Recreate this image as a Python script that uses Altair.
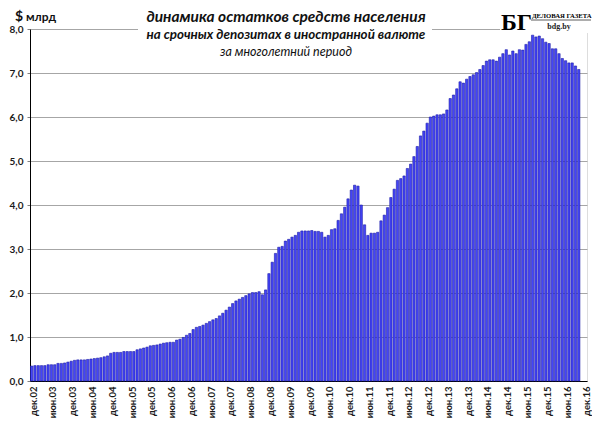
import altair as alt
import pandas as pd

abbr = ["янв", "фев", "мар", "апр", "май", "июн", "июл", "авг", "сен", "окт", "ноя", "дек"]
months = ["дек.02"] + [f"{abbr[m]}.{y:02d}" for y in range(3, 17) for m in range(12)]
tick_labels = [m for m in months if m.startswith(("дек", "июн"))]

values = [
    0.34, 0.35, 0.35, 0.35, 0.35, 0.37, 0.37, 0.37, 0.40, 0.40, 0.41, 0.43,
    0.45, 0.47, 0.48, 0.48, 0.48, 0.49, 0.50, 0.51, 0.52, 0.53, 0.55, 0.57,
    0.63, 0.65, 0.65, 0.65, 0.67, 0.67, 0.67, 0.67, 0.71, 0.73, 0.75, 0.77,
    0.80, 0.81, 0.82, 0.84, 0.86, 0.87, 0.88, 0.88, 0.93, 0.95, 0.99, 1.04,
    1.08, 1.17, 1.22, 1.24, 1.27, 1.31, 1.35, 1.39, 1.42, 1.48, 1.54, 1.61,
    1.68, 1.76, 1.82, 1.86, 1.90, 1.94, 1.98, 2.01, 2.01, 2.03, 1.96, 2.07,
    2.44, 2.70, 2.90, 3.04, 3.06, 3.18, 3.22, 3.27, 3.31, 3.38, 3.41, 3.41,
    3.41, 3.42, 3.40, 3.40, 3.38, 3.27, 3.31, 3.44, 3.46, 3.65, 3.80, 3.95,
    4.14, 4.34, 4.45, 4.43, 4.00, 3.55, 3.31, 3.36, 3.36, 3.38, 3.64, 3.77,
    3.94, 4.17, 4.36, 4.56, 4.60, 4.66, 4.83, 4.93, 5.10, 5.33, 5.57, 5.68,
    5.86, 6.00, 6.02, 6.05, 6.05, 6.07, 6.16, 6.42, 6.50, 6.64, 6.80, 6.77,
    6.86, 6.92, 6.96, 7.01, 7.08, 7.17, 7.27, 7.30, 7.30, 7.27, 7.36, 7.44,
    7.53, 7.41, 7.50, 7.44, 7.53, 7.52, 7.65, 7.71, 7.86, 7.82, 7.84, 7.78,
    7.70, 7.67, 7.55, 7.55, 7.44, 7.33, 7.28, 7.23, 7.23, 7.16, 7.08,
]
y_ticks = [0, 1, 2, 3, 4, 5, 6, 7, 8]

title_1 = "динамика остатков средств населения"
title_2 = "на срочных депозитах в иностранной валюте"
title_3 = "за многолетний период"
unit_sign = "$"
unit_text = "млрд"
logo_big = "БГ"
logo_name = "ДЕЛОВАЯ ГАЗЕТА"
logo_site = "bdg.by"

df = pd.DataFrame({"month": months[:len(values)], "value": values})

W, H = 557, 352
FONT = "Lato"
SERIF = "Liberation Serif"

bars = alt.Chart(df).mark_bar(
    color="#4444f8", stroke="#1c1ca6", strokeWidth=0.6
).encode(
    x=alt.X("month:O", sort=None,
            scale=alt.Scale(domain=months, paddingInner=0.3, paddingOuter=0.15),
            axis=alt.Axis(title=None, values=tick_labels, labelAngle=-90,
                          labelFont=FONT, labelFontSize=9.5, labelFontWeight="bold",
                          labelColor="#1a1a1a", labelPadding=5, labelOffset=2,
                          ticks=False, domainColor="#000000", domainWidth=1,
                          grid=False)),
    y=alt.Y("value:Q",
            scale=alt.Scale(domain=[0, 8], nice=False, zero=True),
            axis=alt.Axis(title=None, values=y_ticks,
                          labelExpr="replace(format(datum.value, '.1f'), '.', ',')",
                          labelFont=FONT, labelFontSize=10, labelFontWeight="bold",
                          labelColor="#1a1a1a", labelPadding=4, tickSize=3,
                          tickColor="#808080", domainColor="#000000", domainWidth=1,
                          grid=True, gridColor="#a6a6a6", gridWidth=1)),
)

one = alt.Data(values=[{"a": 1}])

title_box = alt.Chart(one).mark_rect(color="white").encode(
    x=alt.value(108), x2=alt.value(402), y=alt.value(-29), y2=alt.value(31)
)
logo_box = alt.Chart(one).mark_rect(color="white").encode(
    x=alt.value(470), x2=alt.value(562), y=alt.value(-29), y2=alt.value(4)
)


def txt(text, x, y, size, weight="normal", style="normal", font=FONT, align="center", color="#111111"):
    return alt.Chart(one).mark_text(
        text=text, font=font, fontSize=size, fontWeight=weight, fontStyle=style,
        align=align, baseline="alphabetic", color=color
    ).encode(x=alt.value(x), y=alt.value(y))


texts = [
    txt(unit_sign, -15, -8, 14, weight="bold", align="left"),
    txt(unit_text, -4, -8, 12, weight="bold", align="left"),
    txt(title_1, 256, -7, 15.5, weight="bold", style="italic"),
    txt(title_2, 256, 10, 13.4, weight="bold", style="italic"),
    txt(title_3, 256, 27, 12.5, style="italic"),
    txt(logo_big, 471, 1, 24, weight="bold", font=SERIF, align="left", color="#000000"),
    txt(logo_name, 502, -11, 6.7, weight="bold", font=SERIF, align="left", color="#000000"),
    txt(logo_site, 529, 0, 8, weight="bold", font=SERIF, color="#222222"),
]

underline = alt.Chart(one).mark_rule(color="#333333", strokeWidth=0.8).encode(
    x=alt.value(501), x2=alt.value(561), y=alt.value(-9)
)

chart = alt.layer(bars, title_box, logo_box, *texts, underline).properties(
    width=W, height=H,
    autosize=alt.AutoSizeParams(type="none"),
    padding={"left": 22, "top": 21, "right": 5, "bottom": 40},
).configure_view(stroke=None).configure(background="white")

chart.save("out.html", embed_options={"renderer": "svg", "actions": False})
